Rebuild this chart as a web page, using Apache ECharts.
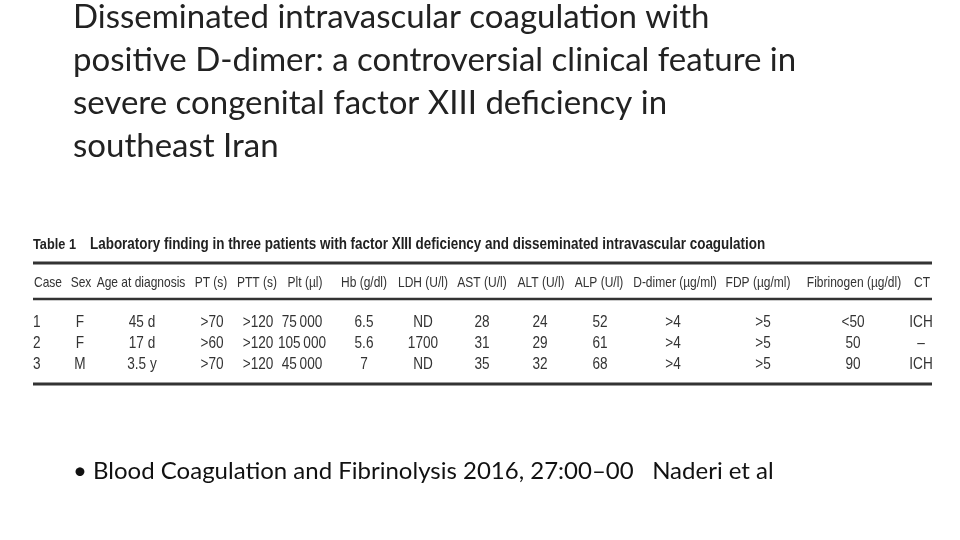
<!DOCTYPE html>
<html>
<head>
<meta charset="utf-8">
<script src="https://cdn.jsdelivr.net/npm/echarts@6/dist/echarts.min.js"></script>
<style>html,body{margin:0;background:#fff}#chart{width:960px;height:540px}</style>
</head>
<body>
<div id="chart"></div>
<script>
var titleLines = ['Disseminated intravascular coagulation with',
    'positive D-dimer: a controversial clinical feature in',
    'severe congenital factor XIII deficiency in',
    'southeast Iran'];
var tableCaption = ['Table 1', 'Laboratory finding in three patients with factor XIII deficiency and disseminated intravascular coagulation'];
var headers = ['Case', 'Sex', 'Age at diagnosis', 'PT (s)', 'PTT (s)', 'Plt (\u00b5l)', 'Hb (g/dl)', 'LDH (U/l)',
    'AST (U/l)', 'ALT (U/l)', 'ALP (U/l)', 'D-dimer (\u00b5g/ml)', 'FDP (\u00b5g/ml)', 'Fibrinogen (\u00b5g/dl)', 'CT'];
var row1 = ['1', 'F', '45 d', '>70', '>120', '75\u2009000', '6.5', 'ND', '28', '24', '52', '>4', '>5', '<50', 'ICH'];
var row2 = ['2', 'F', '17 d', '>60', '>120', '105\u2009000', '5.6', '1700', '31', '29', '61', '>4', '>5', '50', '\u2013'];
var row3 = ['3', 'M', '3.5 y', '>70', '>120', '45\u2009000', '7', 'ND', '35', '32', '68', '>4', '>5', '90', 'ICH'];
var footnote = '\u2022 Blood Coagulation and Fibrinolysis 2016, 27:00\u201300   Naderi et al';

// column layout (header centres / cell centres)
var headX = [48, 81, 141, 211, 257, 305, 364, 423, 482, 541, 599, 675, 758, 854, 922];
var cellX = [36, 80, 142, 212, 258, 302, 364, 423, 482, 540, 600, 673, 763, 853, 921];
var rowY = [323, 344, 365];
var tableFont = '"Liberation Sans", sans-serif';
var slideFont = 'Lato, "Open Sans", sans-serif';

var g = [];
titleLines.forEach(function (t, i) {
    g.push({type: 'text', x: 73, y: 17 + i * 43, style: {text: t, font: '33px ' + slideFont, fill: '#222', verticalAlign: 'middle'}});
});
g.push({type: 'text', x: 33, y: 245, scaleX: 0.85, style: {text: tableCaption[0], font: 'bold 15px ' + tableFont, fill: '#222', verticalAlign: 'middle'}});
g.push({type: 'text', x: 90, y: 245, scaleX: 0.84, style: {text: tableCaption[1], font: 'bold 16px ' + tableFont, fill: '#222', verticalAlign: 'middle'}});
[[263, 3], [299, 2.5], [384, 3]].forEach(function (l) {
    g.push({type: 'line', shape: {x1: 33, y1: l[0], x2: 932, y2: l[0]}, style: {stroke: '#333', lineWidth: l[1]}});
});
headers.forEach(function (h, i) {
    g.push({type: 'text', x: headX[i], y: 283, scaleX: 0.8, style: {text: h, font: '15px ' + tableFont, fill: '#333', align: 'center', verticalAlign: 'middle'}});
});
[row1, row2, row3].forEach(function (r, j) {
    r.forEach(function (c, i) {
        g.push({type: 'text', x: i == 0 ? 33 : cellX[i], y: rowY[j], scaleX: 0.85, style: {text: c, font: '16px ' + tableFont, fill: '#333', align: i == 0 ? 'left' : 'center', verticalAlign: 'middle'}});
    });
});
g.push({type: 'text', x: 73, y: 471, style: {text: footnote, font: '24px ' + slideFont, fill: '#111', verticalAlign: 'middle'}});

var myChart = echarts.init(document.getElementById('chart'));
myChart.setOption({backgroundColor: '#fff', animation: false, graphic: g});
</script>
</body>
</html>
